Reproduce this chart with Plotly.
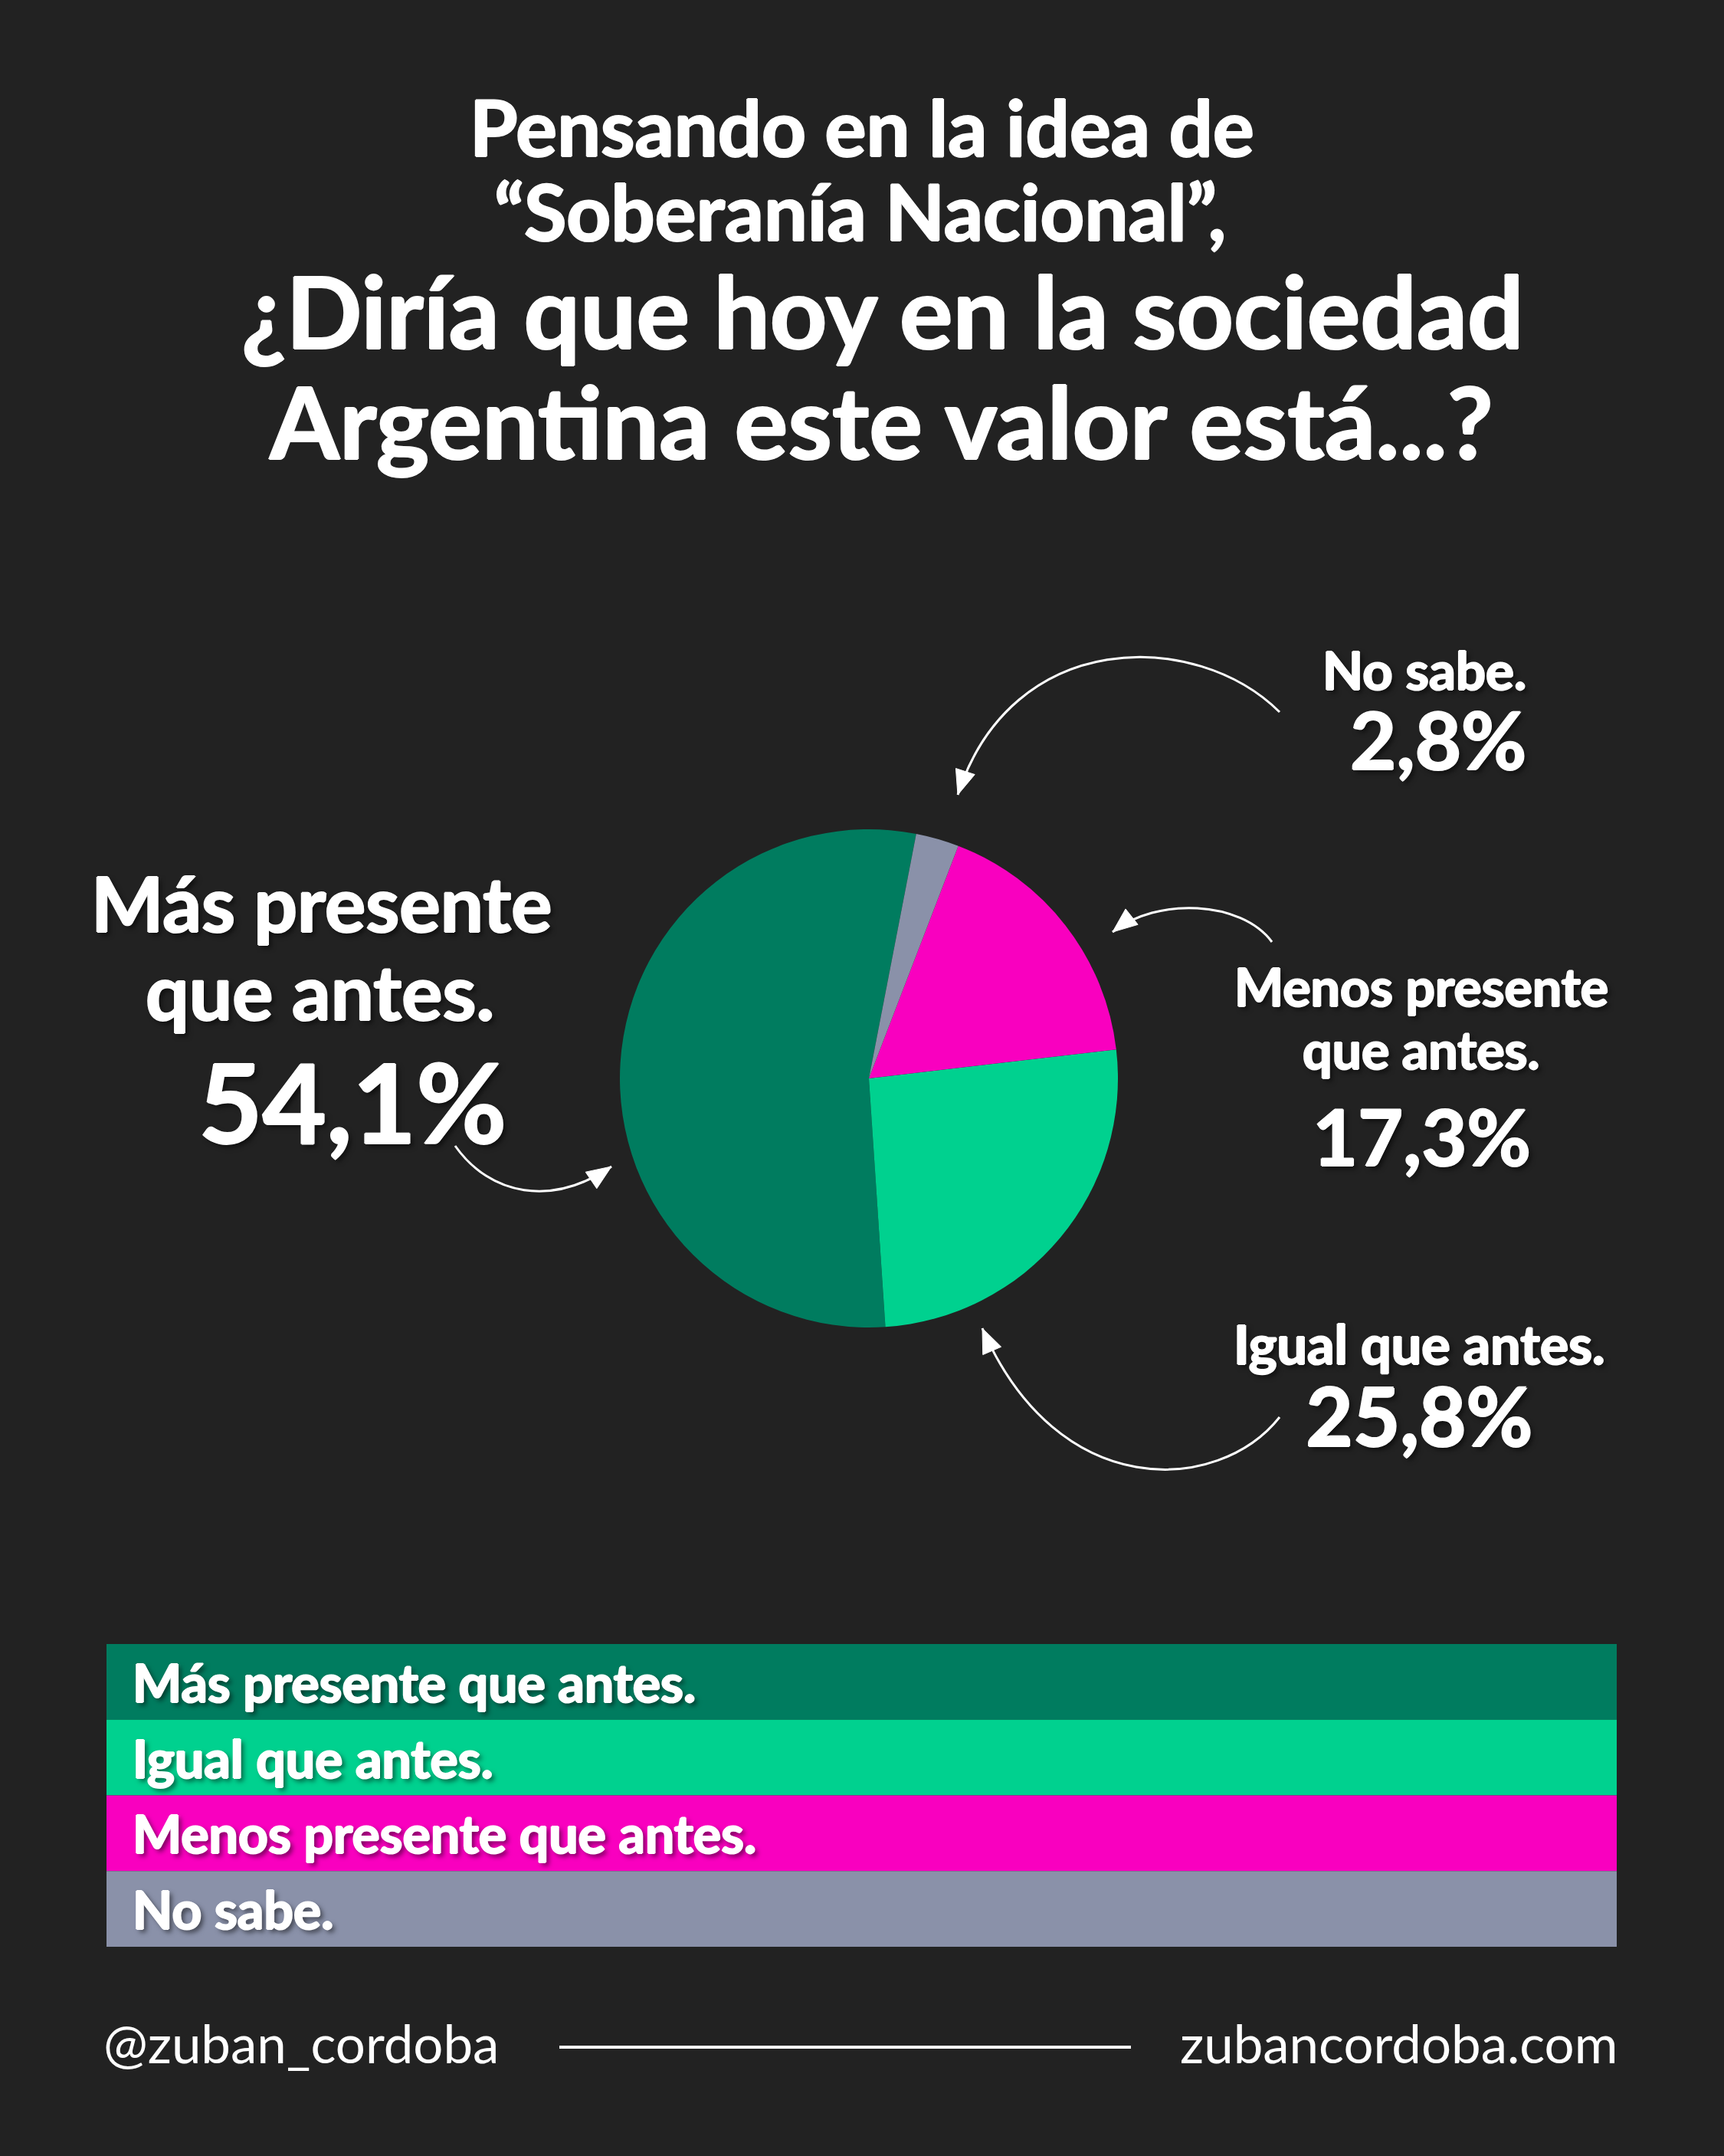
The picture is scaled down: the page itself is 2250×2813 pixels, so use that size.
import plotly.graph_objects as go

# canvas size in px
W, H = 2250, 2813

# survey answers (legend order)
categories = ["Más presente que antes.", "Igual que antes.",
              "Menos presente que antes.", "No sabe."]
values = [54.1, 25.8, 17.3, 2.8]
colors = ["#007C5F", "#00D18F", "#F900BF", "#8A91A9"]
value_labels = ["54,1%", "25,8%", "17,3%", "2,8%"]

title_lines = ["Pensando en la idea de", "“Soberanía Nacional”,",
               "¿Diría que hoy en la sociedad", "Argentina este valor está...?"]
footer_left = "@zuban_cordoba"
footer_right = "zubancordoba.com"

BG = "#222222"
FONT = "Lato"
# a thin white halo makes Lato read a bit heavier, like the original face
HEAVY = "1.2px 0 0 #fff, -1.2px 0 0 #fff, 0 1.2px 0 #fff, 0 -1.2px 0 #fff"
SHADOW = HEAVY + ", 4px 4px 6px rgba(0,0,0,0.55)"


def px(x, y):
    # pixel position -> paper coords
    return x / W, 1 - y / H


def text(fig, s, x, y, size, weight=700, anchor="center", shadow=HEAVY,
         align="center"):
    xx, yy = px(x, y)
    font = dict(family=FONT, size=size, color="white", weight=weight)
    if shadow:
        font["shadow"] = shadow
    fig.add_annotation(text=s, x=xx, y=yy, xref="paper", yref="paper",
                       xanchor=anchor, yanchor="middle", showarrow=False,
                       align=align, font=font)


def two_lines(a, sa, b, sb):
    return ("<span style='font-size:{}px'>{}</span><br>"
            "<span style='font-size:{}px'>{}</span>").format(sa, a, sb, b)


def curve(fig, pts, tip_ctrl):
    # cubic bezier arrow + triangular head at the end
    p = [px(*q) for q in pts]
    path = "M {},{} C {},{} {},{} {},{}".format(*[c for q in p for c in q])
    fig.add_shape(type="path", path=path, xref="paper", yref="paper",
                  line=dict(color="white", width=3))
    tx, ty = pts[-1]
    cx, cy = tip_ctrl
    dx, dy = tx - cx, ty - cy
    n = (dx ** 2 + dy ** 2) ** 0.5
    dx, dy = dx / n, dy / n
    L, w = 32, 13
    bx, by = tx - dx * L, ty - dy * L
    a = px(tx, ty)
    b = px(bx - dy * w, by + dx * w)
    c = px(bx + dy * w, by - dx * w)
    fig.add_shape(type="path",
                  path="M {},{} L {},{} L {},{} Z".format(*a, *b, *c),
                  xref="paper", yref="paper", fillcolor="white",
                  line=dict(color="white", width=1))


fig = go.Figure()

cx0, cy0, r = 1134, 1407, 325
x0, y1 = px(cx0 - r, cy0 - r)
x1, y0 = px(cx0 + r, cy0 + r)
fig.add_trace(go.Pie(
    labels=categories, values=values, sort=False,
    direction="counterclockwise", rotation=176.2,
    marker=dict(colors=colors, line=dict(width=0)),
    textinfo="none", hoverinfo="label+percent", showlegend=False,
    domain=dict(x=[x0, x1], y=[y0, y1]),
))

# title
text(fig, title_lines[0], 1125, 165, 101)
text(fig, title_lines[1], 1122, 275, 101)
text(fig, title_lines[2], 1152, 405, 130)
text(fig, title_lines[3], 1150, 548, 131)

# slice labels
text(fig, "Más presente", 420, 1177, 100, shadow=SHADOW)
text(fig, "que antes.", 418, 1292, 100, shadow=SHADOW)
text(fig, value_labels[0], 460, 1436, 144, shadow=SHADOW)

text(fig, two_lines("No sabe.", 69, value_labels[3], 104),
     1994, 929, 80, anchor="right", align="right", shadow=SHADOW)

text(fig, "Menos presente", 1855, 1286, 68, shadow=SHADOW)
text(fig, "que antes.", 1855, 1369, 68, shadow=SHADOW)
text(fig, value_labels[2], 1855, 1481, 102, shadow=SHADOW)

text(fig, two_lines("Igual que antes.", 70, value_labels[1], 106),
     1852, 1810, 82, shadow=SHADOW)

# curved arrows
curve(fig, [(594, 1495), (640, 1560), (720, 1575), (798, 1522)], (720, 1575))
curve(fig, [(1670, 929), (1560, 820), (1320, 820), (1250, 1037)], (1320, 820))
curve(fig, [(1660, 1229), (1620, 1175), (1510, 1170), (1452, 1216)], (1510, 1170))
curve(fig, [(1670, 1849), (1590, 1950), (1380, 1960), (1282, 1733)], (1380, 1960))

# legend band
top, row_h = 2145, 98.75
for i, (lab, col) in enumerate(zip(categories, colors)):
    ya, yb = top + i * row_h, top + (i + 1) * row_h
    lx0, ly0 = px(139, yb)
    lx1, ly1 = px(2110, ya)
    fig.add_shape(type="rect", x0=lx0, x1=lx1, y0=ly0, y1=ly1,
                  xref="paper", yref="paper", fillcolor=col, line=dict(width=0))
    text(fig, lab, 171, (ya + yb) / 2, 68, anchor="left", shadow=SHADOW)

# footer
text(fig, footer_left, 133, 2665, 69, weight=400, anchor="left", shadow=None)
text(fig, footer_right, 2114, 2665, 69, weight=400, anchor="right", shadow=None)
fx0, fy = px(730, 2671)
fx1, _ = px(1476, 2671)
fig.add_shape(type="line", x0=fx0, x1=fx1, y0=fy, y1=fy, xref="paper",
              yref="paper", line=dict(color="white", width=4))

fig.update_layout(
    width=W, height=H, autosize=False,
    margin=dict(l=0, r=0, t=0, b=0),
    paper_bgcolor=BG, plot_bgcolor=BG,
    xaxis=dict(visible=False), yaxis=dict(visible=False),
)

fig.write_html("out.html", config=dict(displayModeBar=False),
               post_script="document.body.style.margin='0';"
                           "document.body.style.background='#222222';")
